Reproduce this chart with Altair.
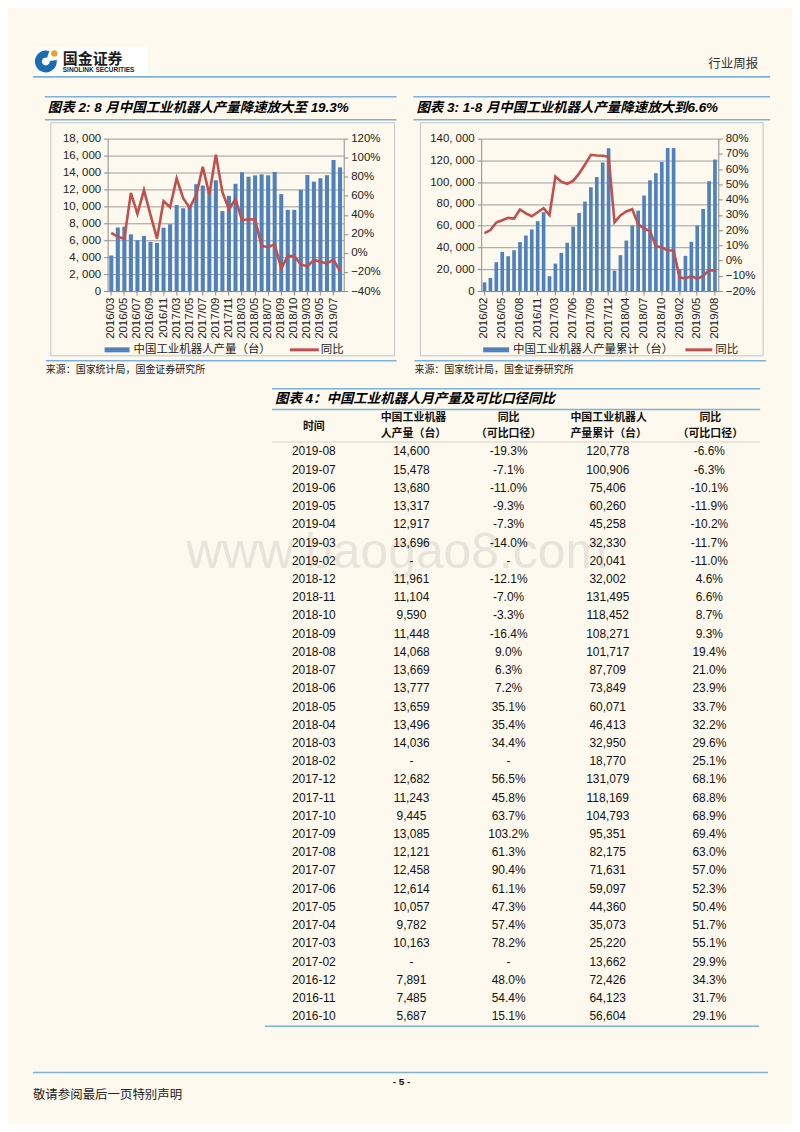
import json
import altair as alt
import pandas as pd

# ---------------- data ----------------
months1 = ['2016/03', '2016/04', '2016/05', '2016/06', '2016/07', '2016/08', '2016/09', '2016/10', '2016/11', '2016/12',
           '2017/03', '2017/04', '2017/05', '2017/06', '2017/07', '2017/08', '2017/09', '2017/10', '2017/11', '2017/12',
           '2018/03', '2018/04', '2018/05', '2018/06', '2018/07', '2018/08', '2018/09', '2018/10', '2018/10', '2018/12',
           '2019/03', '2019/04', '2019/05', '2019/06', '2019/07', '2019/08']
prod1 = [4200, 7500, 7600, 6700, 6000, 6500, 5800, 5687, 7485, 7891,
         10163, 9782, 10057, 12614, 12458, 12121, 13085, 9445, 11243, 12682,
         14036, 13496, 13659, 13777, 13669, 14068, 11448, 9590, 9590, 11961,
         13696, 12917, 13317, 13680, 15478, 14600]
yoy1 = [21, 17, 15, 63, 41, 66, 40, 15.1, 54.4, 48.0,
        78.2, 57.4, 47.3, 61.1, 90.4, 61.3, 103.2, 63.7, 45.8, 56.5,
        34.4, 35.4, 35.1, 7.2, 6.3, 9.0, -16.4, -3.3, -3.3, -12.1,
        -14.0, -7.3, -9.3, -11.0, -7.1, -19.3]

months2 = ['2016/02', '2016/03', '2016/04', '2016/05', '2016/06', '2016/07', '2016/08', '2016/09', '2016/10', '2016/11', '2016/12',
           '2017/02', '2017/03', '2017/04', '2017/05', '2017/06', '2017/07', '2017/08', '2017/09', '2017/10', '2017/11', '2017/12',
           '2018/02', '2018/03', '2018/04', '2018/05', '2018/06', '2018/07', '2018/08', '2018/09', '2018/10', '2018/11', '2018/12',
           '2019/02', '2019/03', '2019/04', '2019/05', '2019/06', '2019/07', '2019/08']
cum2 = [8000, 12000, 26500, 36000, 32000, 37500, 45000, 51000, 56604, 64123, 72426,
        13662, 25220, 35073, 44360, 59097, 71631, 82175, 95351, 104793, 118169, 131079,
        18770, 32950, 46413, 60071, 73849, 87709, 101717, 108271, 118452, 131495, 131495,
        20041, 32330, 45258, 60260, 75406, 100906, 120778]
yoy2 = [18, 20, 25, 26.5, 28, 27.5, 33.5, 31, 29.1, 31.7, 34.3,
        29.9, 55.1, 51.7, 50.4, 52.3, 57.0, 63.0, 69.4, 68.9, 68.8, 68.1,
        25.1, 29.6, 32.2, 33.7, 23.9, 21.0, 19.4, 9.3, 8.7, 6.6, 6.6,
        -11.0, -11.7, -10.2, -11.9, -10.1, -6.3, -6.6]

tbl_time = ['2019-08', '2019-07', '2019-06', '2019-05', '2019-04', '2019-03', '2019-02',
            '2018-12', '2018-11', '2018-10', '2018-09', '2018-08', '2018-07', '2018-06', '2018-05', '2018-04', '2018-03', '2018-02',
            '2017-12', '2017-11', '2017-10', '2017-09', '2017-08', '2017-07', '2017-06', '2017-05', '2017-04', '2017-03', '2017-02',
            '2016-12', '2016-11', '2016-10']
tbl_prod = ['14,600', '15,478', '13,680', '13,317', '12,917', '13,696', '-',
            '11,961', '11,104', '9,590', '11,448', '14,068', '13,669', '13,777', '13,659', '13,496', '14,036', '-',
            '12,682', '11,243', '9,445', '13,085', '12,121', '12,458', '12,614', '10,057', '9,782', '10,163', '-',
            '7,891', '7,485', '5,687']
tbl_yoy = ['-19.3%', '-7.1%', '-11.0%', '-9.3%', '-7.3%', '-14.0%', '-',
           '-12.1%', '-7.0%', '-3.3%', '-16.4%', '9.0%', '6.3%', '7.2%', '35.1%', '35.4%', '34.4%', '-',
           '56.5%', '45.8%', '63.7%', '103.2%', '61.3%', '90.4%', '61.1%', '47.3%', '57.4%', '78.2%', '-',
           '48.0%', '54.4%', '15.1%']
tbl_cum = ['120,778', '100,906', '75,406', '60,260', '45,258', '32,330', '20,041',
           '32,002', '131,495', '118,452', '108,271', '101,717', '87,709', '73,849', '60,071', '46,413', '32,950', '18,770',
           '131,079', '118,169', '104,793', '95,351', '82,175', '71,631', '59,097', '44,360', '35,073', '25,220', '13,662',
           '72,426', '64,123', '56,604']
tbl_cumyoy = ['-6.6%', '-6.3%', '-10.1%', '-11.9%', '-10.2%', '-11.7%', '-11.0%',
              '4.6%', '6.6%', '8.7%', '9.3%', '19.4%', '21.0%', '23.9%', '33.7%', '32.2%', '29.6%', '25.1%',
              '68.1%', '68.8%', '68.9%', '69.4%', '63.0%', '57.0%', '52.3%', '50.4%', '51.7%', '55.1%', '29.9%',
              '34.3%', '31.7%', '29.1%']

# ---------------- style ----------------
BG = '#fdf9ee'
RULE = '#7db2d6'
BAR = '#4f81bd'
LINE = '#c0504d'
CJK = 'Noto Sans CJK SC'
MIX = 'Liberation Sans, Noto Sans CJK SC'

one = pd.DataFrame({'k': [0]})


def T(s, x, y, size=10, align='left', font=MIX, color='#111', **kw):
    return alt.Chart(one).mark_text(text=s, fontSize=size, align=align, font=font,
                                    color=color, **kw).encode(x=alt.value(x), y=alt.value(y))


def HR(x1, x2, y, color=RULE, w=1.5):
    return alt.Chart(one).mark_rule(color=color, strokeWidth=w).encode(
        x=alt.value(x1), x2=alt.value(x2), y=alt.value(y))


def BOX(x1, x2, y1, y2, **kw):
    return alt.Chart(one).mark_rect(**kw).encode(
        x=alt.value(x1), x2=alt.value(x2), y=alt.value(y1), y2=alt.value(y2))


def spacer(w, h):
    return alt.Chart(one).mark_point(opacity=0).encode(
        x=alt.value(0), y=alt.value(0)).properties(width=w, height=h)


# ---------------- row A: header + chart titles + frames ----------------
title_style = dict(size=13.5, fontWeight='bold', fontStyle='italic', color='#000')
rowA = alt.layer(
    BOX(25, 137, 37, 66, color='#ffffff'),
    alt.Chart(one).mark_arc(color='#1b6db3', radius=11, radius2=4, theta=1.45, theta2=6.6).encode(
        x=alt.value(35), y=alt.value(51.5)),
    alt.Chart(one).mark_point(filled=True, color='#f0a020', size=40, opacity=1).encode(
        x=alt.value(43.5), y=alt.value(43.5)),
    T('国金证券', 52, 49, size=15, font=CJK, fontWeight='bold', color='#1a1a1a'),
    T('SINOLINK SECURITIES', 52, 60.5, size=6.5, font='Liberation Sans', fontWeight='bold', color='#1a1a1a'),
    T('行业周报', 750, 54, size=12.5, align='right', font=CJK, color='#333'),
    HR(22, 762, 67, w=2),
    HR(34, 387, 87), HR(34, 387, 110),
    T('图表 2: 8 月中国工业机器人产量降速放大至 19.3%', 37, 98.5, **title_style),
    HR(404, 762, 87), HR(404, 762, 110),
    T('图表 3: 1-8 月中国工业机器人产量降速放大到6.6%', 407, 98.5, **title_style),
    BOX(40, 385, 113, 347, fillOpacity=0, stroke='#c4c4c4', strokeWidth=1),
    BOX(411, 755, 113, 347, fillOpacity=0, stroke='#c4c4c4', strokeWidth=1),
).properties(width=784, height=129)


# ---------------- row B: the two dual-axis charts ----------------
def dual_chart(labels, bars, line, ymax, ystep, pmin, pmax, pstep, every, width, height):
    df = pd.DataFrame({'i': list(range(len(labels))), 'v': bars, 'p': line})
    lab = json.dumps(labels)
    xax = alt.Axis(values=list(range(0, len(labels), every)), labelExpr=f"{lab}[datum.value]",
                   labelAngle=-90, title=None, domainColor='#8c8c8c', tickColor='#8c8c8c', tickSize=4,
                   labelFontSize=11.5, labelPadding=2, labelColor='#222')
    xs = alt.Scale(paddingInner=0.38, paddingOuter=0.25)
    b = alt.Chart(df).mark_bar(color=BAR).encode(
        x=alt.X('i:O', scale=xs, axis=xax),
        y=alt.Y('v:Q', scale=alt.Scale(domain=[0, ymax], nice=False),
                axis=alt.Axis(values=list(range(0, ymax + 1, ystep)), title=None, grid=True,
                              gridColor='#9c9c9c', domainColor='#8c8c8c', tickColor='#8c8c8c', tickSize=4,
                              labelFontSize=11.5, labelPadding=3, labelColor='#222',
                              labelExpr="replace(format(datum.value, ','), ',', ', ')")))
    l = alt.Chart(df).mark_line(color=LINE, strokeWidth=2.6).encode(
        x=alt.X('i:O', scale=xs, axis=xax),
        y=alt.Y('p:Q', scale=alt.Scale(domain=[pmin, pmax], nice=False),
                axis=alt.Axis(orient='right', values=list(range(pmin, pmax + 1, pstep)), title=None, grid=False,
                              domainColor='#8c8c8c', tickColor='#8c8c8c', tickSize=4,
                              labelFontSize=11.5, labelPadding=3, labelColor='#222',
                              labelExpr="format(datum.value / 100, '.0%')")))
    return alt.layer(b, l).resolve_scale(y='independent').properties(width=width, height=height)


c1 = dual_chart(months1, prod1, yoy1, 18000, 2000, -40, 120, 20, 2, 237, 153)
c2 = dual_chart(months2, cum2, yoy2, 140000, 20000, -20, 80, 10, 3, 238, 153)

rowB = alt.hconcat(spacer(97, 153), c1, spacer(138, 153), c2, spacing=0, bounds='flush')

# ---------------- row C: legends, sources, table, footer ----------------
dft = pd.DataFrame({'r': list(range(len(tbl_time))), 'time': tbl_time, 'prod': tbl_prod,
                    'yoy': tbl_yoy, 'cum': tbl_cum, 'cumyoy': tbl_cumyoy})
ys = alt.Scale(range=[151.85, 737.15], paddingInner=0, paddingOuter=0)


def col(field, cx):
    return alt.Chart(dft).mark_text(fontSize=12, font='Liberation Sans', color='#111').encode(
        x=alt.value(cx), y=alt.Y('r:O', scale=ys, axis=None), text=alt.Text(f'{field}:N'))


hdr = dict(size=11, align='center', font=CJK, fontWeight='bold', color='#111')
rowC = alt.layer(
    T('www.baogao8.com', 387, 263, size=50, align='center', font='Liberation Sans', color='#e8e4db'),
    # chart legends
    BOX(94, 119, 56.5, 61.5, color=BAR),
    T('中国工业机器人产量（台）', 123, 59, size=11.5, font=CJK, color='#222'),
    HR(280, 309, 59, color=LINE, w=3),
    T('同比', 311, 59, size=11.5, font=CJK, color='#222'),
    BOX(474, 500, 56.5, 61.5, color=BAR),
    T('中国工业机器人产量累计（台）', 504, 59, size=11.5, font=CJK, color='#222'),
    HR(677, 704, 59, color=LINE, w=3),
    T('同比', 707, 59, size=11.5, font=CJK, color='#222'),
    # chart bottoms and sources
    HR(35, 387, 70), HR(405, 758, 70),
    T('来源：国家统计局，国金证券研究所', 35, 79, size=10, font=CJK, color='#222'),
    T('来源：国家统计局，国金证券研究所', 405, 79, size=10, font=CJK, color='#222'),
    # table title
    HR(262, 752, 98), HR(262, 752, 119),
    T('图表 4：中国工业机器人月产量及可比口径同比', 265, 108.5, **title_style),
    # table header
    T('时间', 304, 136, **hdr),
    T('中国工业机器', 404, 127, **hdr), T('人产量（台）', 404, 144, **hdr),
    T('同比', 499.5, 127, **hdr), T('（可比口径）', 499.5, 144, **hdr),
    T('中国工业机器人', 600, 127, **hdr), T('产量累计（台）', 600, 144, **hdr),
    T('同比', 702, 127, **hdr), T('（可比口径）', 702, 144, **hdr),
    HR(262, 752, 151.5, color='#d6d2c8', w=1),
    col('time', 304), col('prod', 402), col('yoy', 499.5), col('cum', 599), col('cumyoy', 701),
    HR(255, 751, 738),
    # footer
    HR(22, 760, 784.5),
    T('- 5 -', 392, 794, size=10, align='center', font='Liberation Sans', fontWeight='bold', color='#111'),
    T('敬请参阅最后一页特别声明', 22, 807, size=12.5, font=CJK, color='#222'),
).properties(width=784, height=834)

# the flush-bounded inner row reports no height of its own, so an empty
# block of the same height keeps the following row below the charts
chart = alt.vconcat(rowA, rowB, spacer(784, 153), rowC, spacing=0, bounds='flush', padding=0,
                    background=BG).configure_view(stroke=None).configure_axis(
    labelFont='Liberation Sans')

chart.save('out.html', embed_options={'renderer': 'svg', 'actions': False})
